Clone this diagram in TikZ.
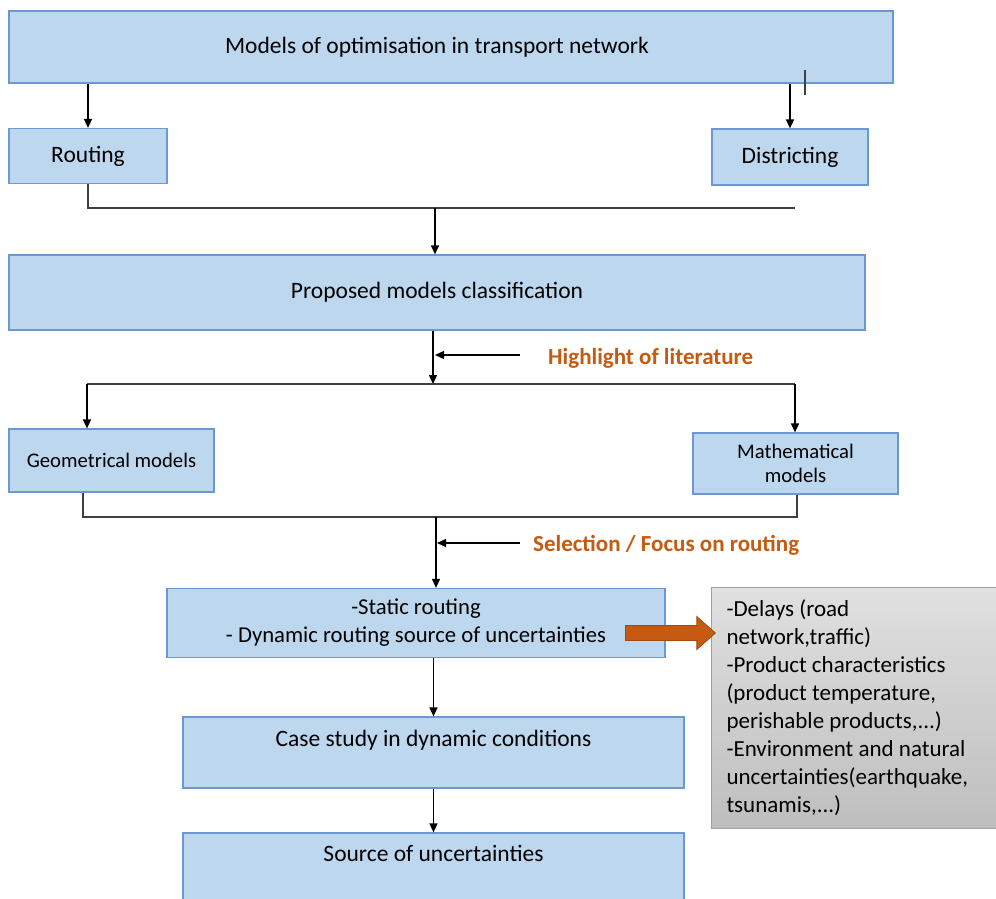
\documentclass[tikz,border=0pt]{standalone}
\usepackage{fontspec}
\setmainfont{Carlito}
\usetikzlibrary{arrows.meta,shapes.arrows}
\definecolor{boxfill}{RGB}{189,215,238}
\definecolor{boxline}{RGB}{108,152,210}
\definecolor{hlorange}{RGB}{197,90,17}
\definecolor{darkorange}{RGB}{165,72,12}
\definecolor{greytop}{RGB}{224,224,224}
\definecolor{greybot}{RGB}{190,190,190}

\begin{document}
\begin{tikzpicture}[
  x=1pt, y=-1pt,
  bnode/.style={draw=boxline, fill=boxfill, line width=1.2pt, rectangle, inner sep=0pt, align=center, font=\fontsize{23.5}{28}\selectfont},
  snode/.style={bnode, font=\fontsize{20.7}{24}\selectfont},
  gnode/.style={draw=gray!75, top color=greytop, bottom color=greybot, line width=1pt, rectangle, align=flush left, inner xsep=15pt, inner ysep=0pt, font=\fontsize{23}{28}\selectfont},
  arr/.style={-{Triangle[width=8pt,length=9pt]}, line width=1.4pt},
  bar/.style={line width=1.2pt, black!75},
  note/.style={anchor=west, inner sep=0pt, text=hlorange, font=\fontsize{23}{28}\selectfont\bfseries}
]
  \clip (0,0) rectangle (996,899);
  \fill[white] (0,0) rectangle (996,899);

  % top level
  \node[bnode, minimum width=884, minimum height=72] (models) at (451,47) {Models of optimisation in transport network\hspace*{28pt}};
  \node[bnode, minimum width=158, minimum height=55] (routing) at (88,156) {Routing};
  \node[bnode, minimum width=156, minimum height=56] (distr) at (790,157) {Districting};

  % classification
  \node[bnode, minimum width=856, minimum height=75] (proposed) at (437,292.5) {Proposed models classification};
  \node[snode, minimum width=205, minimum height=63] (geo) at (111.5,460.5) {Geometrical models};
  \node[snode, minimum width=205, minimum height=61] (math) at (795.5,463.5) {Mathematical\\models};

  % routing boxes
  \node[bnode, font=\fontsize{22.7}{28}\selectfont, minimum width=498, minimum height=69] (static) at (416,623) {-Static routing\\- Dynamic routing source of uncertainties};
  \node[bnode, minimum width=501, minimum height=71, text height=16pt, text depth=29pt] (case) at (433.5,752.5) {Case study in dynamic conditions};
  \node[bnode, minimum width=501, minimum height=80, text height=16pt, text depth=40pt] (source) at (433.5,873) {Source of uncertainties};

  % uncertainties list
  \node[gnode, anchor=north west, minimum width=300, minimum height=241, text width=270pt] (list) at (711,587) {-Delays (road\\network,traffic)\\-Product characteristics\\(product temperature,\\perishable products,...)\\-Environment and natural\\uncertainties(earthquake,\\tsunamis,...)};
  \node[single arrow, fill=hlorange, draw=darkorange, line width=0.8pt, inner xsep=0pt, inner ysep=7pt, minimum height=90, minimum width=32, single arrow head extend=9pt, single arrow tip angle=83, anchor=tail] (flow) at (625,633) {};

  % links from the top box
  \coordinate (tickA) at (805,70);
  \coordinate (tickB) at (805,95);
  \draw[arr] (models.south -| routing.north) -- (routing.north);
  \draw[arr] (models.south -| distr.north) -- (distr.north);
  \draw[bar] (tickA) -- (tickB);

  % first merge
  \coordinate (bar1e) at (795,208);
  \coordinate (bar1m) at (435,208);
  \draw[bar] (routing.south) |- (bar1e);
  \draw[arr] (bar1m) -- (bar1m |- proposed.north);

  % split
  \coordinate (split) at (433,384);
  \coordinate (bar2w) at (87,384);
  \coordinate (bar2e) at (795,384);
  \draw[arr] (proposed.south -| split) -- (split);
  \draw[bar] (bar2w) -- (bar2e);
  \draw[arr] (bar2w) -- (bar2w |- geo.north);
  \draw[arr] (bar2e) -- (bar2e |- math.north);
  \coordinate (hl1) at (520,355);
  \coordinate (hl1tip) at (435,355);
  \draw[arr] (hl1) -- (hl1tip);
  \node[note] (hl1txt) at (548,358) {Highlight of literature};

  % second merge
  \coordinate (bar3w) at (83,517);
  \coordinate (bar3e) at (797,517);
  \coordinate (bar3m) at (436,517);
  \draw[bar] (bar3w |- geo.south) |- (bar3e) -- (bar3e |- math.south);
  \draw[arr] (bar3m) -- (bar3m |- static.north);
  \coordinate (hl2) at (520,543);
  \coordinate (hl2tip) at (437,543);
  \draw[arr] (hl2) -- (hl2tip);
  \node[note] (hl2txt) at (533,545) {Selection / Focus on routing};

  % case study chain
  \draw[arr] (static.south -| case.north) -- (case.north);
  \draw[arr] (case.south) -- (source.north);

\end{tikzpicture}
\end{document}
